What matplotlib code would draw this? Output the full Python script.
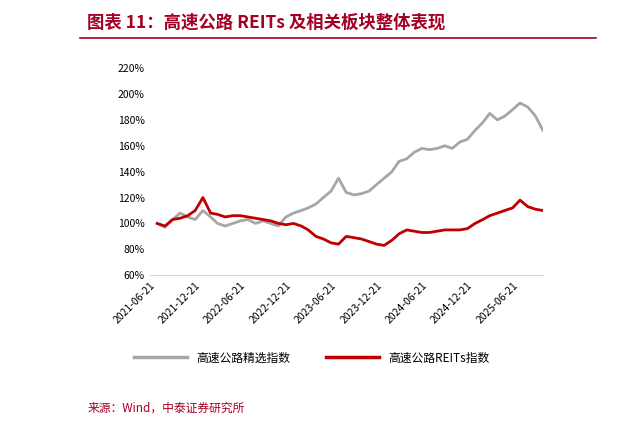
import matplotlib
matplotlib.use("Agg")
import matplotlib.pyplot as plt
import pandas as pd
from matplotlib.lines import Line2D

plt.rcParams['font.family'] = ['Noto Sans CJK SC', 'DejaVu Sans']

dates = pd.date_range("2021-06-21", periods=52, freq="MS") + pd.Timedelta(days=20)
grey = [100, 97, 103, 108, 105, 103, 110, 105, 100, 98, 100, 102, 103, 100, 102, 100, 98, 105, 108,
        110, 112, 115, 120, 125, 135, 124, 122, 123, 125, 130, 135, 140, 148, 150, 155, 158, 157, 158,
        160, 158, 163, 165, 172, 178, 185, 180, 183, 188, 193, 190, 183, 172]
red = [100, 98, 103, 104, 106, 110, 120, 108, 107, 105, 106, 106, 105, 104, 103, 102, 100, 99, 100,
       98, 95, 90, 88, 85, 84, 90, 89, 88, 86, 84, 83, 87, 92, 95, 94, 93, 93, 94, 95, 95, 95, 96, 100,
       103, 106, 108, 110, 112, 118, 113, 111, 110]
ticks = pd.to_datetime(["2021-06-21", "2021-12-21", "2022-06-21", "2022-12-21", "2023-06-21",
                        "2023-12-21", "2024-06-21", "2024-12-21", "2025-06-21"])

fig = plt.figure(figsize=(6.24, 4.26), dpi=100)
ax = fig.add_axes([0.24, 0.354, 0.63, 0.486])
ax.plot(dates, grey, color="#A6A6A6", lw=2.0)
ax.plot(dates, red, color="#C00000", lw=2.0)
ax.set_ylim(60, 220)
ax.set_yticks(range(60, 221, 20))
ax.set_yticklabels([f"{v}%" for v in range(60, 221, 20)], fontsize=7.5)
ax.set_xlim(dates[0] - pd.Timedelta(days=5), dates[-1])
ax.set_xticks(ticks)
ax.set_xticklabels([t.strftime("%Y-%m-%d") for t in ticks], rotation=45, ha="right",
                   rotation_mode="anchor", fontsize=7.5)
for s in ax.spines.values():
    s.set_visible(False)
ax.spines['bottom'].set_visible(True)
ax.spines['bottom'].set_color("#D9D9D9")
ax.tick_params(length=0)

handles = [Line2D([], [], color="#A6A6A6", lw=2.5), Line2D([], [], color="#C00000", lw=2.5)]
fig.legend(handles, ["高速公路精选指数", "高速公路REITs指数"], loc="center",
           bbox_to_anchor=(0.5, 0.16), ncol=2, frameon=False, fontsize=8.5, handlelength=4.5,
           columnspacing=3)

fig.text(0.14, 0.947, "图表 11：高速公路 REITs 及相关板块整体表现", color="#A50021", fontsize=12.5,
         fontweight="bold", style="italic", va="center")
fig.add_artist(Line2D([0.128, 0.955], [0.91, 0.91], color="#A50021", lw=1.2))
fig.text(0.14, 0.042, "来源：Wind，中泰证券研究所", color="#A50021", fontsize=8.5, va="center")
fig.savefig("out.png", dpi=100)
